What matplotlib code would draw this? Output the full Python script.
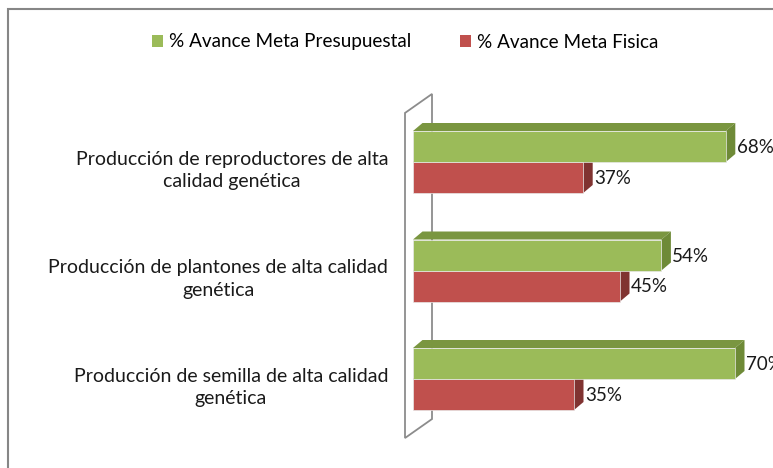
#!/usr/bin/env python3

import matplotlib
matplotlib.use("Agg")
import matplotlib.pyplot as plt
from matplotlib.patches import Polygon, Rectangle, Patch

plt.rcParams['font.family'] = ['Lato', 'DejaVu Sans']

# Data
categories = ["Producción de reproductores de alta\ncalidad genética",
              "Producción de plantones de alta calidad\ngenética",
              "Producción de semilla de alta calidad\ngenética"]
presupuestal = [68, 54, 70]
fisica = [37, 45, 35]
series_names = ["% Avance Meta Presupuestal", "% Avance Meta Fisica"]

GREEN = "#9BBB59"
GREEN_TOP = "#7A9640"
GREEN_SIDE = "#6E8A37"
RED = "#C0504D"
RED_TOP = "#9A3D3A"
RED_SIDE = "#803331"
WALL = "#8C8C8C"
TEXT = "#1A1A1A"

W, H = 773, 468
fig = plt.figure(figsize=(W / 100, H / 100), dpi=100)
ax = fig.add_axes([0, 0, 1, 1])

# scale: 4.6 px per percent, 0% at px 413; categories 108.5 px apart
px_per_pct = 4.6
x0_px = 413
cat_px = 108.5
y0_px = 162
ax.set_xlim(-x0_px / px_per_pct, (W - x0_px) / px_per_pct)
ax.set_ylim((H - y0_px) / cat_px, -y0_px / cat_px)
ax.axis("off")

bar_h = 31 / cat_px
dx = 9.5 / px_per_pct   # depth offsets
dy = 8 / cat_px
nudge = 1 / cat_px


def bar3d(y_top, value, front, top, side, z):
    y_bot = y_top + bar_h
    ax.add_patch(Polygon([(0, y_top), (dx, y_top - dy), (value + dx, y_top - dy),
                          (value, y_top)], closed=True, fc=top, ec="none", zorder=z))
    ax.add_patch(Polygon([(value, y_top), (value + dx, y_top - dy),
                          (value + dx, y_bot - dy), (value, y_bot)],
                         closed=True, fc=side, ec="none", zorder=z))
    ax.add_patch(Rectangle((0, y_top), value, bar_h, fc=front,
                           ec="#E8E8E8", lw=0.5, zorder=z + 0.1))


# side wall behind the bars
wl, wr = -8 / px_per_pct, 19 / px_per_pct
wall_top, wall_bot = -0.452, 2.544
ax.add_patch(Polygon([(wl, wall_top), (wr, wall_top - 19 / cat_px),
                      (wr, wall_bot - 19 / cat_px), (wl, wall_bot)],
                     closed=True, fc="none", ec=WALL, lw=1.3, zorder=1))

for i, cat in enumerate(categories):
    # red first so the green front hides its top face
    bar3d(i, fisica[i], RED, RED_TOP, RED_SIDE, 3)
    bar3d(i - bar_h, presupuestal[i], GREEN, GREEN_TOP, GREEN_SIDE, 5)

    ax.text(presupuestal[i] + dx + 0.3, i - bar_h / 2 + nudge,
            f"{presupuestal[i]}%", ha="left", va="center",
            fontsize=13.5, color=TEXT, zorder=6)
    ax.text(fisica[i] + dx + 0.3, i + bar_h / 2 + nudge,
            f"{fisica[i]}%", ha="left", va="center",
            fontsize=13.5, color=TEXT, zorder=6)
    ax.text(-25 / px_per_pct, i + 0.08, cat, ha="right", va="center",
            multialignment="center", linespacing=1.4,
            fontsize=14, color=TEXT)

# chart border
fig.patches.append(Rectangle((8 / W, -0.1), 1.2, 1 - 8.5 / H + 0.1,
                             transform=fig.transFigure, fill=False,
                             ec="#868686", lw=1.5))

handles = [Patch(fc=GREEN, ec="none"), Patch(fc=RED, ec="none")]
fig.legend(handles, series_names, loc="center", bbox_to_anchor=(405 / W, 1 - 42 / H),
           ncol=2, frameon=False, fontsize=13.6, handlelength=0.6,
           handleheight=0.6, handletextpad=0.3, columnspacing=2.6)

plt.savefig("out.png", dpi=100)
